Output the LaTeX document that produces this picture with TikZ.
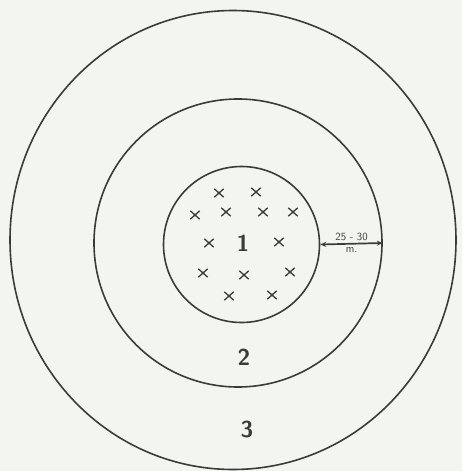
\documentclass[tikz,border=0pt]{standalone}
\usepackage{tikz}
\usetikzlibrary{arrows.meta, shapes.geometric, shapes.misc}
\definecolor{paper}{HTML}{F3F5EF}
\definecolor{pencil}{HTML}{3B3B37}

\begin{document}
\begin{tikzpicture}[x=1pt, y=-1pt, line width=1.6pt,
    zone/.style={draw=pencil, inner sep=0pt},
    zonenum/.style={text=pencil, font=\sffamily\bfseries\fontsize{23}{23}\selectfont},
    plant/.style={cross out, draw=pencil, line width=1.3pt, inner sep=0pt,
                  minimum width=8pt, minimum height=7pt}]
  \fill[paper] (0,0) rectangle (462,471);
  \useasboundingbox (0,0) rectangle (462,471);
  % three zones
  \node[zone, ellipse, minimum width=446pt, minimum height=459pt] (zone3) at (233,240) {};
  \node[zone, circle, minimum size=288pt] (zone2) at (238,243) {};
  \node[zone, circle, minimum size=156pt] (zone1) at (241.5,244.5) {};
  \node[zonenum] (num1) at (243,243) {1};
  \node[zonenum] (num2) at (244,357) {2};
  \node[zonenum] (num3) at (247,430) {3};
  % plants in the centre
  \foreach \px/\py [count=\i] in {219/193, 256/192, 195/215, 226/212, 263/212,
      293/212, 209/243, 279/242, 203/273, 244/275, 290/272, 229/296, 272/295}
    \node[plant] (plant\i) at (\px,\py) {};
  % width of the ring
  \draw[pencil, line width=1.7pt, {Stealth[length=6pt,width=5pt]}-{Stealth[length=6pt,width=5pt]}]
    (zone1.east) -- (zone2.east)
    node[midway, above=-1pt, font=\sffamily\fontsize{11}{11}\selectfont, text=pencil] (width) {25 - 30}
    node[midway, below=0pt, font=\sffamily\fontsize{11}{11}\selectfont, text=pencil] (unit) {m.};
\end{tikzpicture}
\end{document}
